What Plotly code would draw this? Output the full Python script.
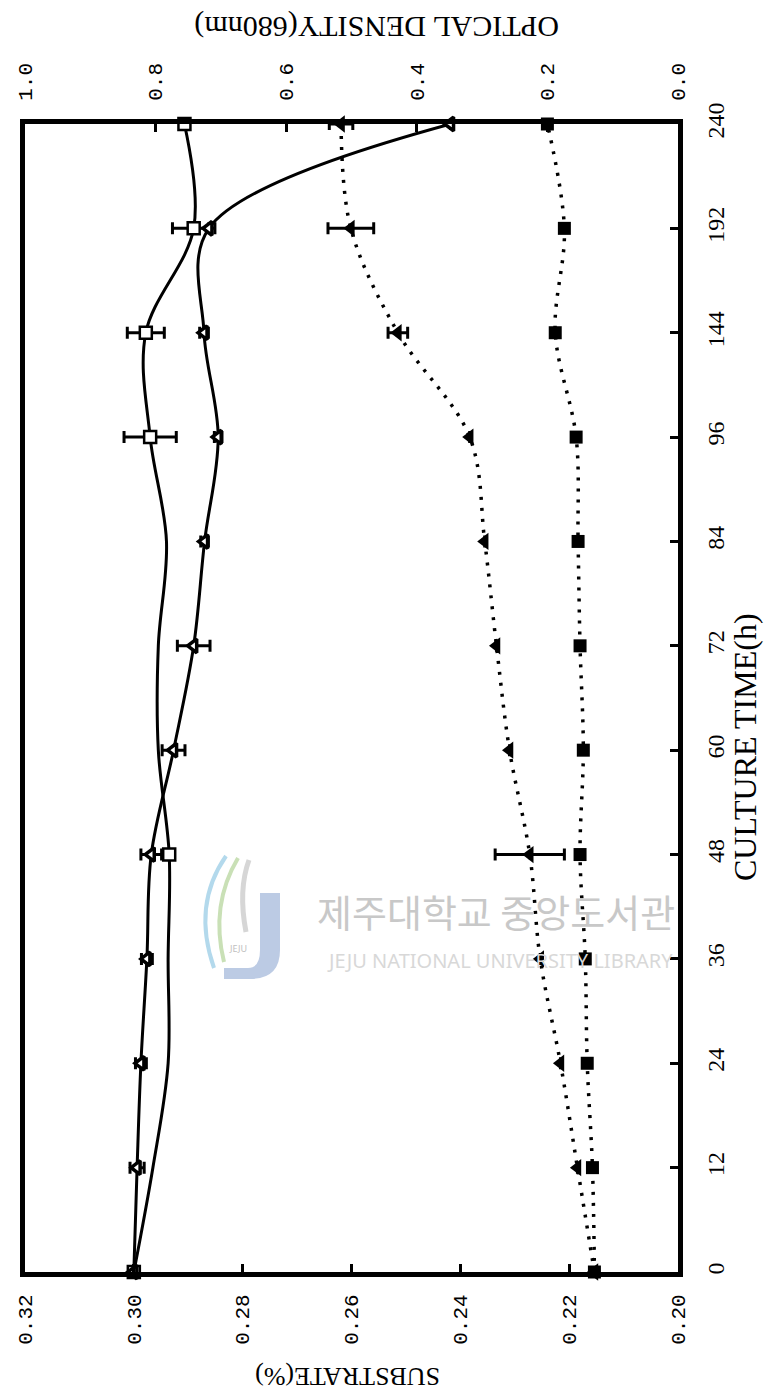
import plotly.graph_objects as go

# ---------------- data ----------------
time_labels = ["0", "12", "24", "36", "48", "60", "72", "84", "96", "144", "192", "240"]

# substrate (%) - open squares, solid line (markers only at measured points)
substrate_sq = [0.3000, 0.2965, 0.2937, 0.2937, 0.2935, 0.2955, 0.2955, 0.2940,
                0.2970, 0.2978, 0.2890, 0.2907]
substrate_sq_marked = [1, 0, 0, 0, 1, 0, 0, 0, 1, 1, 1, 1]
substrate_sq_err = [0, 0, 0, 0, 0, 0, 0, 0, 0.0048, 0.0034, 0.0039, 0]

# substrate (%) - open triangles, solid line
substrate_tri = [0.3000, 0.2994, 0.2987, 0.2976, 0.2968, 0.2927, 0.2890, 0.2870,
                 0.2845, 0.2871, 0.2862, 0.2418]
substrate_tri_err = [0, 0.0013, 0.0010, 0.0010, 0.0019, 0.0021, 0.0030, 0.0007,
                     0.0007, 0.0008, 0, 0]

# optical density (680nm) - filled triangles, dotted line
od_tri = [0.128, 0.154, 0.180, 0.211, 0.227, 0.258, 0.278, 0.296, 0.319, 0.429, 0.501, 0.516]
od_tri_err = [0, 0, 0, 0, 0.053, 0, 0, 0, 0, 0.015, 0.035, 0.018]

# optical density (680nm) - filled squares, dotted line
od_sq = [0.128, 0.131, 0.139, 0.142, 0.150, 0.145, 0.150, 0.153, 0.156, 0.188, 0.174, 0.200]

substrate_ticks = [0.20, 0.22, 0.24, 0.26, 0.28, 0.30, 0.32]
od_ticks = [0.0, 0.2, 0.4, 0.6, 0.8, 1.0]

# ---------------- figure ----------------
W, H = 766, 1400
ML, MR, MT, MB = 25, 88, 124, 128
PW, PH = W - ML - MR, H - MT - MB

def px(x):
    return (x - ML) / PW

def py(y):
    return (H - MB - y) / PH

def path(cmds):
    out = []
    for c in cmds:
        if isinstance(c, str):
            out.append(c)
        else:
            out.append("%.5f,%.5f" % (px(c[0]), py(c[1])))
    return " ".join(out)

BLACK = "#000000"
fig = go.Figure()

# dotted OD lines
fig.add_trace(go.Scatter(
    x=od_sq, y=time_labels, xaxis="x2", yaxis="y", mode="lines+markers",
    line=dict(color=BLACK, width=3.5, dash="3px,8px", shape="spline"),
    marker=dict(symbol="square", size=13, color=BLACK),
    cliponaxis=False, showlegend=False))
fig.add_trace(go.Scatter(
    x=od_tri, y=time_labels, xaxis="x2", yaxis="y", mode="lines+markers",
    line=dict(color=BLACK, width=3.5, dash="3px,8px", shape="spline"),
    marker=dict(symbol="triangle-left", size=15, color=BLACK),
    error_x=dict(type="data", array=od_tri_err, visible=True, color=BLACK,
                 thickness=3, width=6),
    cliponaxis=False, showlegend=False))

# solid substrate lines
fig.add_trace(go.Scatter(
    x=substrate_sq, y=time_labels, xaxis="x", yaxis="y", mode="lines",
    line=dict(color=BLACK, width=3, shape="spline"),
    cliponaxis=False, showlegend=False))
sq_x = [v for v, m in zip(substrate_sq, substrate_sq_marked) if m]
sq_y = [t for t, m in zip(time_labels, substrate_sq_marked) if m]
sq_e = [e for e, m in zip(substrate_sq_err, substrate_sq_marked) if m]
fig.add_trace(go.Scatter(
    x=sq_x, y=sq_y, xaxis="x", yaxis="y", mode="markers",
    marker=dict(symbol="square", size=12, color="white",
                line=dict(color=BLACK, width=2.5)),
    error_x=dict(type="data", array=sq_e, visible=True, color=BLACK,
                 thickness=3, width=6),
    cliponaxis=False, showlegend=False))
fig.add_trace(go.Scatter(
    x=substrate_tri, y=time_labels, xaxis="x", yaxis="y", mode="lines+markers",
    line=dict(color=BLACK, width=3, shape="spline"),
    marker=dict(symbol="triangle-left", size=12, color="white",
                line=dict(color=BLACK, width=3.5)),
    error_x=dict(type="data", array=substrate_tri_err, visible=True, color=BLACK,
                 thickness=3, width=6),
    cliponaxis=False, showlegend=False))

axis_common = dict(showgrid=False, zeroline=False, showline=True, linecolor=BLACK,
                   linewidth=5, ticks="inside", ticklen=8, tickwidth=3,
                   tickcolor=BLACK, tickangle=-90)

# faint library watermark logo (decoration)
shapes = [
    dict(type="path", xref="paper", yref="paper", layer="below",
         path=path(["M", (260, 893), "L", (280, 893), "L", (280, 950), "Q", (280, 979),
                    (250, 979), "L", (224, 979), "L", (224, 968), "L", (248, 968),
                    "Q", (260, 968), (260, 950), "Z"]),
         fillcolor="#bccbe4", line=dict(width=0)),
    dict(type="path", xref="paper", yref="paper", layer="below",
         path=path(["M", (226, 856), "Q", (192, 905), (214, 968)]),
         line=dict(color="#b3d9ec", width=4)),
    dict(type="path", xref="paper", yref="paper", layer="below",
         path=path(["M", (238, 858), "Q", (210, 905), (224, 962)]),
         line=dict(color="#c9e0b6", width=4)),
    dict(type="path", xref="paper", yref="paper", layer="below",
         path=path(["M", (249, 860), "Q", (238, 890), (246, 932)]),
         line=dict(color="#d6d6d6", width=5)),
]

fig.update_layout(
    width=W, height=H,
    margin=dict(l=ML, r=MR, t=MT, b=MB),
    paper_bgcolor="white", plot_bgcolor="white",
    xaxis=dict(range=[0.32, 0.20], tickvals=substrate_ticks,
               ticktext=["%.2f" % v for v in substrate_ticks],
               tickfont=dict(family="Liberation Mono", size=21, color=BLACK),
               ticklabelstandoff=9, **axis_common),
    xaxis2=dict(range=[1.0, 0.0], overlaying="x", side="top", tickvals=od_ticks,
                ticktext=["%.1f" % v for v in od_ticks],
                tickfont=dict(family="Liberation Mono", size=21, color=BLACK),
                ticklabelstandoff=14, **axis_common),
    yaxis=dict(type="category", categoryorder="array", categoryarray=time_labels,
               range=[0, len(time_labels) - 1], side="right", mirror=True,
               tickfont=dict(family="Liberation Serif", size=24, color=BLACK),
               ticklabelstandoff=12, **axis_common),
    shapes=shapes,
    annotations=[
        dict(text="CULTURE TIME(h)", textangle=-90, xref="paper", yref="paper",
             x=px(745), y=py(747), xanchor="center", yanchor="middle", showarrow=False,
             font=dict(family="Liberation Serif", size=32, color=BLACK)),
        dict(text="OPTICAL DENSITY(680nm)", textangle=180, xref="paper", yref="paper",
             x=px(377), y=py(27), xanchor="center", yanchor="middle", showarrow=False,
             font=dict(family="Liberation Serif", size=30, color=BLACK)),
        dict(text="SUBSTRATE(%)", textangle=180, xref="paper", yref="paper",
             x=px(348), y=py(1377), xanchor="center", yanchor="middle", showarrow=False,
             font=dict(family="Liberation Serif", size=26, color=BLACK)),
        dict(text="제주대학교 중앙도서관", xref="paper", yref="paper",
             x=px(496), y=py(910), xanchor="center", yanchor="middle", showarrow=False,
             font=dict(family="Noto Sans CJK KR", size=38, color="#c8c8c8")),
        dict(text="JEJU NATIONAL UNIVERSITY LIBRARY", xref="paper", yref="paper",
             x=px(500), y=py(960), xanchor="center", yanchor="middle", showarrow=False,
             font=dict(family="Noto Sans", size=20, color="#d8d8d8")),
        dict(text="JEJU", xref="paper", yref="paper",
             x=px(238), y=py(948), xanchor="center", yanchor="middle", showarrow=False,
             font=dict(family="Noto Sans", size=9, color="#c0c0c0")),
    ],
)

fig.write_html("out.html")
